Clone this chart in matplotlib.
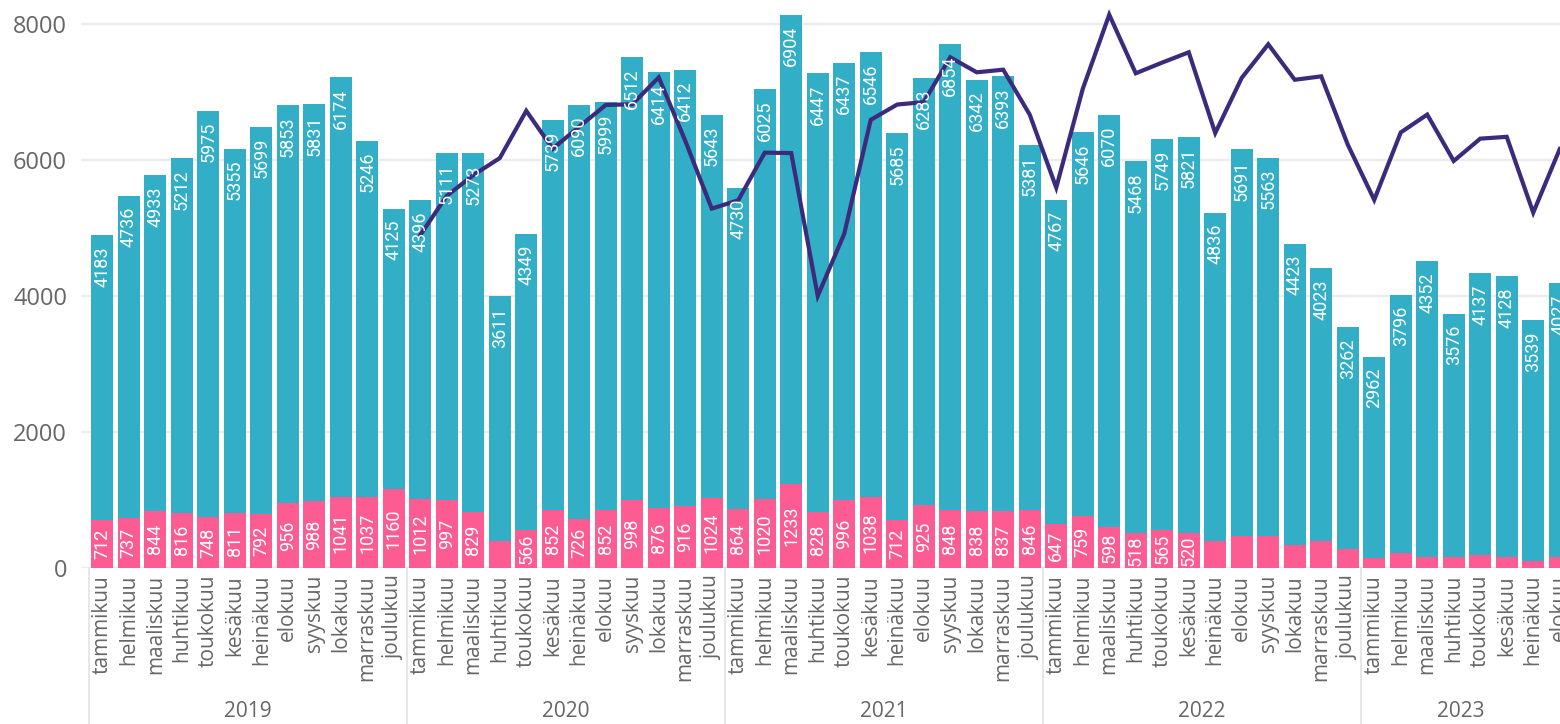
import numpy as np
import matplotlib.pyplot as plt

# Kuukaudet ja vuodet (x-akseli)
kuukaudet = ["tammikuu", "helmikuu", "maaliskuu", "huhtikuu", "toukokuu", "kesäkuu",
             "heinäkuu", "elokuu", "syyskuu", "lokakuu", "marraskuu", "joulukuu"]
vuodet = ["2019", "2020", "2021", "2022", "2023"]

# Alempi (pinkki) osa pylväästä
pinkki = [712, 737, 844, 816, 748, 811, 792, 956, 988, 1041, 1037, 1160,
          1012, 997, 829, 390, 566, 852, 726, 852, 998, 876, 916, 1024,
          864, 1020, 1233, 828, 996, 1038, 712, 925, 848, 838, 837, 846,
          647, 759, 598, 518, 565, 520, 390, 470, 470, 345, 390, 275,
          143, 220, 162, 162, 196, 162, 108, 162]

# Ylempi (turkoosi) osa pylväästä
turkoosi = [4183, 4736, 4933, 5212, 5975, 5355, 5699, 5853, 5831, 6174, 5246, 4125,
            4396, 5111, 5273, 3611, 4349, 5739, 6090, 5999, 6512, 6414, 6412, 5643,
            4730, 6025, 6904, 6447, 6437, 6546, 5685, 6283, 6854, 6342, 6393, 5381,
            4767, 5646, 6070, 5468, 5749, 5821, 4836, 5691, 5563, 4423, 4023, 3262,
            2962, 3796, 4352, 3576, 4137, 4128, 3539, 4027]

# Viiva: edellisen vuoden sama kuukausi (alkaa 2020 tammikuusta)
edellinen_vuosi = [4895, 5473, 5777, 6028, 6723, 6166, 6491, 6809, 6819, 7215, 6283, 5285,
                   5408, 6108, 6102, 4001, 4915, 6591, 6816, 6851, 7510, 7290, 7328, 6667,
                   5594, 7045, 8137, 7275, 7433, 7584, 6397, 7208, 7702, 7180, 7230, 6227,
                   5414, 6405, 6668, 5986, 6314, 6341, 5226, 6161]

n = len(pinkki)
x = np.arange(n)
labels = (kuukaudet * len(vuodet))[:n]
pink = np.array(pinkki)
teal = np.array(turkoosi)
total = pink + teal

PINK = "#fd5c93"
TEAL = "#32afc6"
LINE = "#3c2b7d"
GRAY = "#666666"
GRID = "#ebebeb"

fig = plt.figure(figsize=(15.6, 7.24), dpi=100)
ax = fig.add_axes([81 / 1560, 156 / 724, 1479 / 1560, 568 / 724])

ax.bar(x, pink, width=0.83, color=PINK, zorder=2)
ax.bar(x, teal, width=0.83, bottom=pink, color=TEAL, zorder=2)

ax.plot(x[12:], edellinen_vuosi, color=LINE, lw=3.0, zorder=3,
        solid_joinstyle="miter")

lab_font = ["Liberation Sans Narrow", "Roboto", "DejaVu Sans"]
for i in range(n):
    ax.annotate(str(turkoosi[i]), (x[i], total[i]), xytext=(0, -8),
                textcoords="offset points", rotation=90, ha="center", va="top",
                color="white", fontsize=13, family=lab_font, zorder=4)
    if pinkki[i] >= 500:
        ax.text(x[i], pinkki[i] / 2, str(pinkki[i]), rotation=90, ha="center",
                va="center", color="white", fontsize=13, family=lab_font, zorder=4)

ax.set_xlim(-0.802, 55.01)
ax.set_ylim(0, 8353)
ax.set_yticks([0, 2000, 4000, 6000, 8000])
ax.yaxis.grid(True, color=GRID, lw=1.6, zorder=0)
ax.set_axisbelow(True)
for s in ax.spines.values():
    s.set_visible(False)

ax.set_xticks(x)
ax.set_xticklabels(labels, rotation=90, va="top", ha="center",
                   fontsize=15, color=GRAY, family="Open Sans")
ax.tick_params(axis="x", length=0, pad=5)
ax.tick_params(axis="y", length=0, pad=10, labelsize=17, labelcolor=GRAY)
for t in ax.get_yticklabels():
    t.set_family("Open Sans")

# Vuosien erottimet ja nimet
trans = ax.get_xaxis_transform()
for k, v in enumerate(vuodet):
    start = 12 * k - 0.5
    ax.plot([start, start], [0, -0.3], color="#e3e3e3", lw=1.2,
            transform=trans, clip_on=False)
    end = min(start + 12, 55.01)
    ax.text((start + end) / 2, -0.252, v, transform=trans, ha="center",
            va="center", fontsize=15, color=GRAY, family="Open Sans")

fig.savefig("out.png", dpi=100)
